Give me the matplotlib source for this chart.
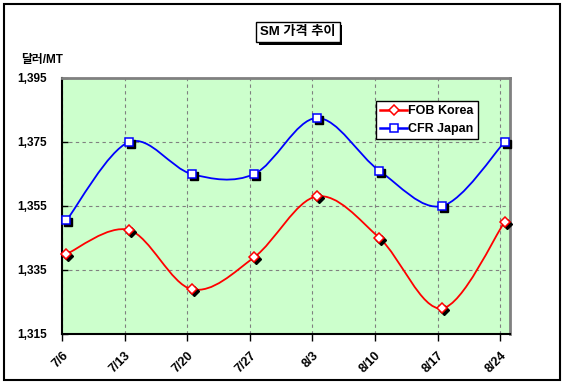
import matplotlib
matplotlib.use('Agg')
import matplotlib.pyplot as plt
import matplotlib.patheffects as pe
from matplotlib.path import Path
from matplotlib.patches import PathPatch, Rectangle
from matplotlib.transforms import offset_copy
from matplotlib.lines import Line2D

plt.rcParams['font.family'] = ['Liberation Sans', 'Noto Sans CJK KR', 'DejaVu Sans']

# --- Data ---
dates = ['7/6', '7/13', '7/20', '7/27', '8/3', '8/10', '8/17', '8/24']
days = [0, 7, 14, 21, 28, 35, 42, 49]          # days since 7/6
fob_korea = [1340, 1347.5, 1329, 1339, 1358, 1345, 1323, 1350]
cfr_japan = [1350.5, 1375, 1365, 1365, 1382.5, 1366, 1355, 1375]
yticks = [1315, 1335, 1355, 1375, 1395]

# points sit a little to the right of the date ticks (Excel date axis)
x_pts = [d + 0.5 for d in days]


def smooth_path(xs, ys):
    # Excel-like smoothed line: cubic Bezier through the points
    n = len(xs)
    verts = [(xs[0], ys[0])]
    codes = [Path.MOVETO]
    for i in range(n - 1):
        p0 = (xs[max(i - 1, 0)], ys[max(i - 1, 0)])
        p1 = (xs[i], ys[i])
        p2 = (xs[i + 1], ys[i + 1])
        p3 = (xs[min(i + 2, n - 1)], ys[min(i + 2, n - 1)])
        c1 = (p1[0] + (p2[0] - p0[0]) / 6, p1[1] + (p2[1] - p0[1]) / 6)
        c2 = (p2[0] - (p3[0] - p1[0]) / 6, p2[1] - (p3[1] - p1[1]) / 6)
        verts += [c1, c2, p2]
        codes += [Path.CURVE4] * 3
    return Path(verts, codes)


fig = plt.figure(figsize=(5.65, 3.84), dpi=100)
fig.patches.append(Rectangle((4 / 565, 4 / 384), 556 / 565, 376 / 384,
                             transform=fig.transFigure, fill=False,
                             ec='black', lw=1.5))

ax = fig.add_axes([62 / 565, 1 - 334 / 384, 448 / 565, 256 / 384])
ax.set_facecolor('#CCFFCC')
ax.set_xlim(0, 50.1)
ax.set_ylim(1315, 1395)

shadow = offset_copy(ax.transData, fig=fig, x=2, y=-2, units='dots')

series = [
    ('FOB Korea', fob_korea, 'red', 'D', 5.5),
    ('CFR Japan', cfr_japan, 'blue', 's', 6),
]
handles = []
for name, vals, col, mk, ms in series:
    ax.add_patch(PathPatch(smooth_path(x_pts, vals), fill=False, ec=col,
                           lw=1.3, zorder=3))
    ax.plot(x_pts, vals, ls='none', marker=mk, ms=ms, mfc='black',
            mec='black', transform=shadow, zorder=4, clip_on=False)
    ax.plot(x_pts, vals, ls='none', marker=mk, ms=ms, mfc='white',
            mec=col, mew=1.1, zorder=5, clip_on=False)
    handles.append(Line2D([], [], color=col, lw=1.8, marker=mk, ms=ms,
                          mfc='white', mec=col, mew=1.1))

# axes styling
ax.set_xticks(days)
ax.set_xticklabels(dates, rotation=45, ha='right', va='top',
                   rotation_mode='anchor', fontsize=9, fontweight='bold')
ax.set_yticks(yticks)
ax.set_yticklabels([f'{v:,}' for v in yticks], fontsize=8.5, fontweight='bold')
ax.tick_params(axis='x', direction='out', length=5, width=1, pad=6)
ax.tick_params(axis='y', direction='in', length=4, width=1, pad=11)
ax.grid(True, color='#808080', ls=(0, (3, 3)), lw=0.8)
ax.set_axisbelow(True)
for s in ['left', 'bottom']:
    ax.spines[s].set_color('black')
    ax.spines[s].set_linewidth(1.5)
for s in ['top', 'right']:
    ax.spines[s].set_color('#808080')
    ax.spines[s].set_linewidth(2)

leg = ax.legend(handles, [s[0] for s in series], loc='upper left',
                bbox_to_anchor=(376 / 565, 1 - 101 / 384),
                bbox_transform=fig.transFigure, fancybox=False,
                edgecolor='black', framealpha=1, borderaxespad=0,
                handlelength=2.1, handletextpad=0.15, borderpad=0.35,
                labelspacing=0.45, prop={'weight': 'bold', 'size': 9})
leg.get_frame().set_linewidth(1)

# title box with shadow
title = fig.text(298 / 565, 1 - 32 / 384, 'SM 가격 추이', ha='center',
                 va='center', fontsize=9.5, fontweight='bold',
                 bbox=dict(boxstyle='square,pad=0.3', fc='white',
                           ec='black', lw=1))
title.get_bbox_patch().set_path_effects(
    [pe.withSimplePatchShadow(offset=(2, -2), shadow_rgbFace='black', alpha=1)])

fig.text(21 / 565, 1 - 60 / 384, '달러/MT', ha='left', va='center',
         fontsize=8.5, fontweight='bold')

fig.savefig('out.png', dpi=100)
